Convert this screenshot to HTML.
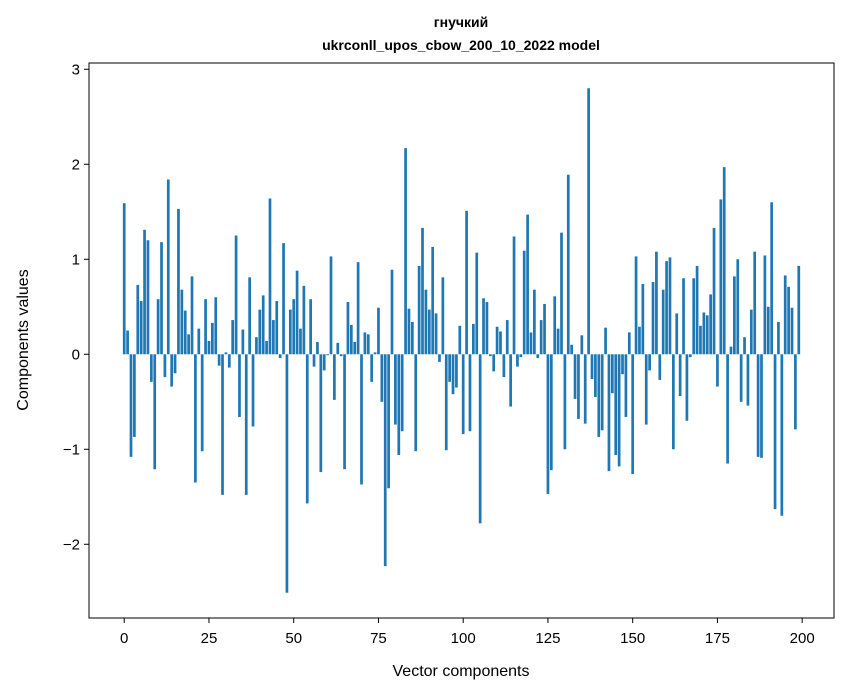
<!DOCTYPE html>
<html><head><meta charset="utf-8"><style>
body{margin:0;background:#fff;}
svg{display:block;font-family:"Liberation Sans","DejaVu Sans",sans-serif;}
</style></head><body>
<svg id="chart" width="847" height="696" viewBox="0 0 847 696">
<rect x="0" y="0" width="847" height="696" fill="#fff"/>
<text x="461" y="27" text-anchor="middle" font-size="14" font-weight="bold">гнучкий</text>
<text x="461" y="50" text-anchor="middle" font-size="14" font-weight="bold">ukrconll_upos_cbow_200_10_2022 model</text>
<g id="bars"></g>
<g id="xticks"></g>
<g id="yticks"></g>
<rect x="89" y="63" width="745" height="555" fill="none" stroke="#000" stroke-width="1"/>
<text x="461" y="676" text-anchor="middle" font-size="16">Vector components</text>
<text x="0" y="0" transform="translate(28,340) rotate(-90)" text-anchor="middle" font-size="16">Components values</text>
</svg>
<script>
const values = [1.59,0.25,-1.08,-0.87,0.73,0.56,1.31,1.20,-0.29,-1.21,
0.58,1.18,-0.24,1.84,-0.34,-0.20,1.53,0.68,0.46,0.21,
0.82,-1.35,0.27,-1.02,0.58,0.14,0.33,0.60,-0.12,-1.48,
0.02,-0.14,0.36,1.25,-0.66,0.26,-1.48,0.81,-0.76,0.18,
0.47,0.62,0.14,1.64,0.36,0.56,-0.04,1.17,-2.51,0.47,
0.58,0.88,0.27,0.72,-1.57,0.58,-0.13,0.13,-1.24,-0.17,
-0.01,1.03,-0.48,0.12,-0.02,-1.21,0.55,0.31,0.13,0.97,
-1.37,0.23,0.21,-0.29,0.02,0.49,-0.50,-2.23,-1.41,0.89,
-0.74,-1.06,-0.81,2.17,0.48,0.34,-1.02,0.93,1.33,0.68,
0.47,1.13,0.43,-0.08,0.81,-1.01,-0.29,-0.42,-0.35,0.30,
-0.84,1.51,-0.81,0.32,1.07,-1.78,0.59,0.55,-0.02,-0.18,
0.29,0.24,-0.24,0.36,-0.55,1.24,-0.13,-0.03,1.09,1.47,
0.23,0.68,-0.04,0.36,0.53,-1.47,-1.22,0.61,0.27,1.28,
-1.00,1.89,0.10,-0.47,-0.68,0.20,-0.73,2.80,-0.26,-0.45,
-0.87,-0.80,0.28,-1.23,-0.41,-1.06,-1.18,-0.21,-0.66,0.23,
-1.26,1.03,0.29,0.74,-0.74,-0.17,0.76,1.08,-0.27,0.68,
0.98,1.02,-1.00,0.43,-0.44,0.80,-0.70,-0.03,0.80,0.93,
0.30,0.44,0.41,0.63,1.33,-0.34,1.63,1.97,-1.15,0.08,
0.82,1.00,-0.50,0.18,-0.54,0.47,1.08,-1.08,-1.09,1.04,
0.50,1.60,-1.63,0.34,-1.70,0.83,0.71,0.49,-0.79,0.93];
const xTicks = [0,25,50,75,100,125,150,175,200];
const yTicks = [-2,-1,0,1,2,3];
const yTickLabels = ["\u22122","\u22121","0","1","2","3"];

const L=89,R=834,T=63,B=618;
const xMin=-10.39,xMax=209.39,yMin=-2.776,yMax=3.066;
function xs(v){return L+(v-xMin)/(xMax-xMin)*(R-L);}
function ys(v){return B-(v-yMin)/(yMax-yMin)*(B-T);}
const NS="http://www.w3.org/2000/svg";
const gb=document.getElementById('bars');
values.forEach((v,i)=>{
  const r=document.createElementNS(NS,'rect');
  const x0=xs(i-0.4),x1=xs(i+0.4);
  const y0=ys(Math.max(v,0)),y1=ys(Math.min(v,0));
  r.setAttribute('x',x0);r.setAttribute('width',x1-x0);
  r.setAttribute('y',y0);r.setAttribute('height',Math.max(y1-y0,0.3));
  r.setAttribute('fill','#1f77b4');
  
  
  gb.appendChild(r);
});
const gx=document.getElementById('xticks');
xTicks.forEach(t=>{
  const x=xs(t);
  const l=document.createElementNS(NS,'line');
  l.setAttribute('x1',x);l.setAttribute('x2',x);l.setAttribute('y1',B);l.setAttribute('y2',B+5);
  l.setAttribute('stroke','#000');
  
  
  gx.appendChild(l);
  const tx=document.createElementNS(NS,'text');
  tx.setAttribute('x',x);tx.setAttribute('y',B+25);tx.setAttribute('text-anchor','middle');tx.setAttribute('font-size','15');
  tx.textContent=t;
  
  
  gx.appendChild(tx);
});
const gy=document.getElementById('yticks');
yTicks.forEach((t,i)=>{
  const y=ys(t);
  const l=document.createElementNS(NS,'line');
  l.setAttribute('x1',L-5);l.setAttribute('x2',L);l.setAttribute('y1',y);l.setAttribute('y2',y);
  l.setAttribute('stroke','#000');
  
  
  gy.appendChild(l);
  const tx=document.createElementNS(NS,'text');
  tx.setAttribute('x',L-9);tx.setAttribute('y',y+5);tx.setAttribute('text-anchor','end');tx.setAttribute('font-size','15');
  tx.textContent=yTickLabels[i];
  
  
  gy.appendChild(tx);
});
</script>
</body></html>
